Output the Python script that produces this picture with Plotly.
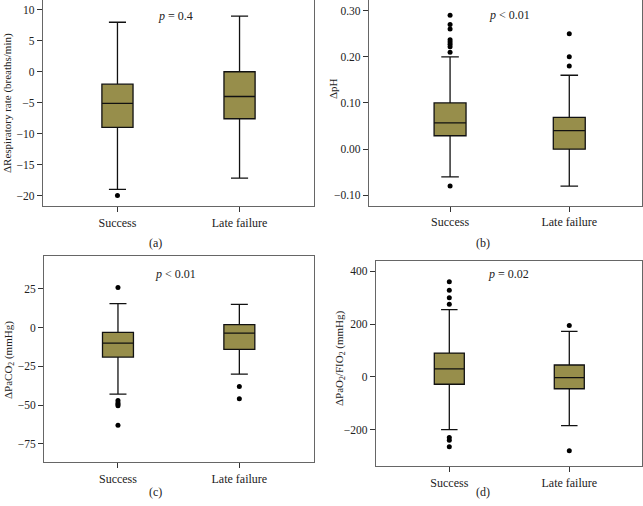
import plotly.graph_objects as go

W, H = 643, 506

groups = ["Success", "Late failure"]

# Panel (a) respiratory rate
a_q1 = [-9.0, -7.6]
a_med = [-5.1, -4.0]
a_q3 = [-2.0, 0.0]
a_lo = [-19.0, -17.2]
a_hi = [8.0, 9.0]
a_out = [[-20.0], []]

# Panel (b) pH
b_q1 = [0.029, 0.0]
b_med = [0.057, 0.040]
b_q3 = [0.100, 0.069]
b_lo = [-0.06, -0.08]
b_hi = [0.20, 0.16]
b_out = [[0.29, 0.27, 0.26, 0.237, 0.232, 0.227, 0.222, 0.21, -0.08], [0.25, 0.20, 0.18]]

# Panel (c) PaCO2
c_q1 = [-19.0, -14.0]
c_med = [-10.0, -3.5]
c_q3 = [-3.0, 2.0]
c_lo = [-43.0, -30.0]
c_hi = [15.5, 15.0]
c_out = [[26.0, -47.0, -48.5, -49.5, -50.5, -63.0], [-38.0, -46.0]]

# Panel (d) PaO2/FIO2
d_q1 = [-28.0, -45.0]
d_med = [30.0, -3.0]
d_q3 = [90.0, 45.0]
d_lo = [-200.0, -185.0]
d_hi = [255.0, 172.0]
d_out = [[360.0, 328.0, 300.0, 275.0, -230.0, -240.0, -265.0], [195.0, -280.0]]

y_titles = ["ΔRespiratory rate (breaths/min)", "ΔpH",
            "ΔPaCO<sub>2</sub> (mmHg)", "ΔPaO<sub>2</sub>/FIO<sub>2</sub> (mmHg)"]
p_texts = ["<i>p</i> = 0.4", "<i>p</i> < 0.01", "<i>p</i> < 0.01", "<i>p</i> = 0.02"]
panel_labels = ["(a)", "(b)", "(c)", "(d)"]

FILL = "#978e4b"
FONT = "Liberation Serif"

# pixel geometry of each panel: left, right, top, bottom
geo = [(43, 314, 0, 206), (369, 642, 0, 205.7), (44.3, 313.5, 256, 462.3), (376, 642, 260.7, 466.3)]
yranges = [[-21.7, 11.6], [-0.1225, 0.323], [-87, 46.3], [-338.7, 440]]
xranges = [[-0.61, 1.61], [-0.68, 1.61], [-0.607, 1.611], [-0.611, 1.606]]
ytickvals = [[10, 5, 0, -5, -10, -15, -20],
             [0.30, 0.20, 0.10, 0.0, -0.10],
             [25, 0, -25, -50, -75],
             [400, 200, 0, -200]]
yticktext = [["10", "5", "0", "−5", "−10", "−15", "−20"],
             ["0.30", "0.20", "0.10", "0.00", "−0.10"],
             ["25", "0", "−25", "−50", "−75"],
             ["400", "200", "0", "−200"]]
boxw = [0.255, 0.268, 0.255, 0.25]
p_pos = [(175, 16), (509, 15), (175, 274), (508, 274)]
lab_pos = [(155, 243), (483, 243), (155, 492), (483, 492)]
ytitle_pos = [(8, 103), (333, 89), (9, 360), (340, 358)]

data = [(a_q1, a_med, a_q3, a_lo, a_hi, a_out),
        (b_q1, b_med, b_q3, b_lo, b_hi, b_out),
        (c_q1, c_med, c_q3, c_lo, c_hi, c_out),
        (d_q1, d_med, d_q3, d_lo, d_hi, d_out)]

fig = go.Figure()
layout = dict(width=W, height=H, margin=dict(l=0, r=0, t=0, b=0),
              paper_bgcolor="white", plot_bgcolor="white", showlegend=False,
              font=dict(family=FONT, size=11, color="#222"))
annotations = []

for i, (q1, med, q3, lo, hi, out) in enumerate(data):
    xa = "x" if i == 0 else f"x{i+1}"
    ya = "y" if i == 0 else f"y{i+1}"
    fig.add_trace(go.Box(
        x=[0, 1], q1=q1, median=med, q3=q3, lowerfence=lo, upperfence=hi,
        width=boxw[i], whiskerwidth=0.55, fillcolor=FILL,
        line=dict(color="#111", width=1.3), boxpoints=False,
        xaxis=xa, yaxis=ya, hoverinfo="skip"))
    ox, oy = [], []
    for g, vals in enumerate(out):
        for v in vals:
            ox.append(g)
            oy.append(v)
    fig.add_trace(go.Scatter(x=ox, y=oy, mode="markers",
                             marker=dict(color="black", size=5),
                             xaxis=xa, yaxis=ya, hoverinfo="skip"))
    l, r, t, b = geo[i]
    kx = "xaxis" if i == 0 else f"xaxis{i+1}"
    ky = "yaxis" if i == 0 else f"yaxis{i+1}"
    layout[kx] = dict(domain=[l / W, r / W], range=xranges[i], anchor=ya,
                      tickvals=[0, 1], ticktext=groups, ticks="outside",
                      ticklen=5, tickcolor="#333", showgrid=False, zeroline=False,
                      showline=True, linecolor="#666", linewidth=1.3, mirror=True,
                      tickfont=dict(size=12, family=FONT, color="#222"), fixedrange=True)
    layout[ky] = dict(domain=[1 - b / H, 1 - t / H], range=yranges[i], anchor=xa,
                      tickvals=ytickvals[i], ticktext=yticktext[i], ticks="outside",
                      ticklen=5, tickcolor="#333", showgrid=False, zeroline=False,
                      showline=True, linecolor="#666", linewidth=1.3, mirror=True,
                      tickfont=dict(size=11.5, family=FONT, color="#222"), fixedrange=True)
    annotations.append(dict(x=ytitle_pos[i][0] / W, y=1 - ytitle_pos[i][1] / H, xref="paper", yref="paper",
                            xanchor="center", yanchor="middle",
                            text=y_titles[i], textangle=-90, showarrow=False,
                            font=dict(size=11, family=FONT, color="#222")))
    annotations.append(dict(x=p_pos[i][0] / W, y=1 - p_pos[i][1] / H, xref="paper", yref="paper",
                            xanchor="center", yanchor="middle",
                            text=p_texts[i], showarrow=False,
                            font=dict(size=12, family=FONT, color="#222")))
    annotations.append(dict(x=lab_pos[i][0] / W, y=1 - lab_pos[i][1] / H, xref="paper", yref="paper",
                            xanchor="center", yanchor="middle",
                            text=panel_labels[i], showarrow=False,
                            font=dict(size=12, family=FONT, color="#222")))

layout["annotations"] = annotations
fig.update_layout(**layout)
fig.write_html("out.html", config={"displayModeBar": False},
               post_script="document.body.style.margin='0';document.body.style.overflow='hidden';")
